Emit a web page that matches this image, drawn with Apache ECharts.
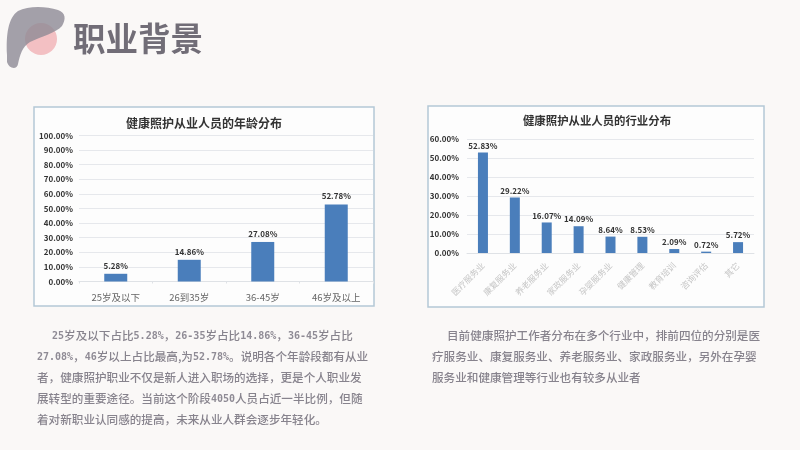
<!DOCTYPE html>
<html>
<head>
<meta charset="utf-8">
<title>职业背景</title>
<style>
  html, body { margin: 0; padding: 0; background: #faf8f7; }
  #main { width: 800px; height: 450px; }
</style>
<script src="https://cdn.jsdelivr.net/npm/echarts@6/dist/echarts.min.js"></script>
</head>
<body>
<div id="main"></div>
<script>
const pageTitle = "职业背景";

// 左图：年龄分布
const ageTitle = "健康照护从业人员的年龄分布";
const ageCategories = ["25岁及以下", "26到35岁", "36-45岁", "46岁及以上"];
const ageValues = [5.28, 14.86, 27.08, 52.78];

// 右图：行业分布
const industryTitle = "健康照护从业人员的行业分布";
const industryCategories = ["医疗服务业", "康复服务业", "养老服务业", "家政服务业", "孕婴服务业", "健康管理", "教育培训", "咨询评估", "其它"];
const industryValues = [52.83, 29.22, 16.07, 14.09, 8.64, 8.53, 2.09, 0.72, 5.72];

// 下方说明文字
const leftLines = [
  "25岁及以下占比5.28%，26-35岁占比14.86%，36-45岁占比",
  "27.08%，46岁以上占比最高,为52.78%。说明各个年龄段都有从业",
  "者，健康照护职业不仅是新人进入职场的选择，更是个人职业发",
  "展转型的重要途径。当前这个阶段4050人员占近一半比例，但随",
  "着对新职业认同感的提高，未来从业人群会逐步年轻化。",
];
const rightLines = [
  "目前健康照护工作者分布在多个行业中，排前四位的分别是医",
  "疗服务业、康复服务业、养老服务业、家政服务业，另外在孕婴",
  "服务业和健康管理等行业也有较多从业者",
];

const cjk = "'Noto Sans CJK SC'";
const barColor = "#4a7ebb";
const gridColor = "#e6e8ec";

// 左上角装饰的形状，graphic 组件里没有 path 类型，要先注册
echarts.graphic.registerShape(
  "logoShape",
  echarts.graphic.extendPath(
    "M7,55 C6,35 8,18 18,11 C28,6 45,6 58,10 C66,13 66,19 62,26 C56,33 42,36 30,42 C22,47 20,55 18,64 C17,70 9,69 7,62 Z",
    {}
  )
);

// 数字用等宽字体，其余用中文字体
function paragraph(lines, x, indentX, topY) {
  return lines.map((line, i) => ({
    type: "text",
    z: 5,
    x: i === 0 ? indentX : x,
    y: topY + i * 21,
    style: {
      text: line.replace(/[0-9.%\-]+/g, (m) => "{n|" + m + "}"),
      fontFamily: cjk,
      fontSize: 11.6,
      fontWeight: 500,
      fill: "#87838d",
      verticalAlign: "middle",
      rich: {
        n: { fontFamily: "'DejaVu Sans Mono'", fontSize: 10, fontWeight: "bold", fill: "#8f8b95" },
      },
    },
  }));
}

function panel(x, y, width, height) {
  return {
    type: "rect",
    z: -1,
    shape: { x: x, y: y, width: width, height: height },
    style: { fill: "#fdfdfd", stroke: "#b4c8d6", lineWidth: 1.5 },
  };
}

function percent(v) {
  return v.toFixed(2) + "%";
}

function barSeries(index, values) {
  return {
    type: "bar",
    xAxisIndex: index,
    yAxisIndex: index,
    data: values,
    barWidth: index === 0 ? 23 : 10,
    itemStyle: { color: barColor },
    label: {
      show: true,
      position: "top",
      distance: index === 0 ? 4 : 3,
      formatter: (p) => percent(p.value),
      fontFamily: cjk,
      fontSize: 8,
      fontWeight: "bold",
      color: "#333",
    },
  };
}

const chart = echarts.init(document.getElementById("main"));
chart.setOption({
  backgroundColor: "#faf8f7",
  animation: false,
  title: [
    {
      text: ageTitle,
      left: 204,
      top: 117,
      padding: 0,
      textAlign: "center",
      textStyle: { fontFamily: cjk, fontSize: 12, fontWeight: "bold", color: "#333" },
    },
    {
      text: industryTitle,
      left: 597,
      top: 115,
      padding: 0,
      textAlign: "center",
      textStyle: { fontFamily: cjk, fontSize: 11.4, fontWeight: "bold", color: "#333" },
    },
  ],
  grid: [
    { left: 79, top: 135.5, width: 294, height: 146 },
    { left: 467, top: 139, width: 287, height: 114 },
  ],
  xAxis: [
    {
      gridIndex: 0,
      type: "category",
      data: ageCategories,
      axisLine: { lineStyle: { color: "#dfe2e6" } },
      axisTick: { show: true, length: 2, lineStyle: { color: "#dfe2e6" } },
      axisLabel: { margin: 11, fontFamily: cjk, fontSize: 9.5, color: "#666" },
    },
    {
      gridIndex: 1,
      type: "category",
      data: industryCategories,
      axisLine: { lineStyle: { color: "#dfe2e6" } },
      axisTick: { show: false },
      axisLabel: { interval: 0, rotate: 45, margin: 11, fontFamily: cjk, fontSize: 8.5, color: "#c6c6c6" },
    },
  ],
  yAxis: [
    {
      gridIndex: 0,
      type: "value",
      min: 0,
      max: 100,
      interval: 10,
      axisLine: { show: false },
      axisTick: { show: false },
      splitLine: { lineStyle: { color: gridColor } },
      axisLabel: { margin: 6, formatter: percent, fontFamily: cjk, fontSize: 8, fontWeight: "bold", color: "#333" },
    },
    {
      gridIndex: 1,
      type: "value",
      min: 0,
      max: 60,
      interval: 10,
      axisLine: { show: false },
      axisTick: { show: false },
      splitLine: { lineStyle: { color: gridColor } },
      axisLabel: { margin: 8, formatter: percent, fontFamily: cjk, fontSize: 8, fontWeight: "bold", color: "#333" },
    },
  ],
  series: [barSeries(0, ageValues), barSeries(1, industryValues)],
  graphic: [
    {
      type: "circle",
      z: 1,
      shape: { cx: 41, cy: 39, r: 16 },
      style: { fill: "#f3c0c3" },
    },
    {
      type: "logoShape",
      z: 2,
      style: { fill: "#8d8995", opacity: 0.8 },
    },
    {
      type: "text",
      z: 5,
      x: 73,
      y: 39,
      style: {
        text: pageTitle,
        fontFamily: cjk,
        fontSize: 32.5,
        fontWeight: "bold",
        fill: "#716d77",
        verticalAlign: "middle",
      },
    },
    panel(34, 107, 340, 199),
    panel(428, 106, 336, 201),
    ...paragraph(leftLines, 37, 52, 336),
    ...paragraph(rightLines, 432, 447, 336),
  ],
});
</script>
</body>
</html>
